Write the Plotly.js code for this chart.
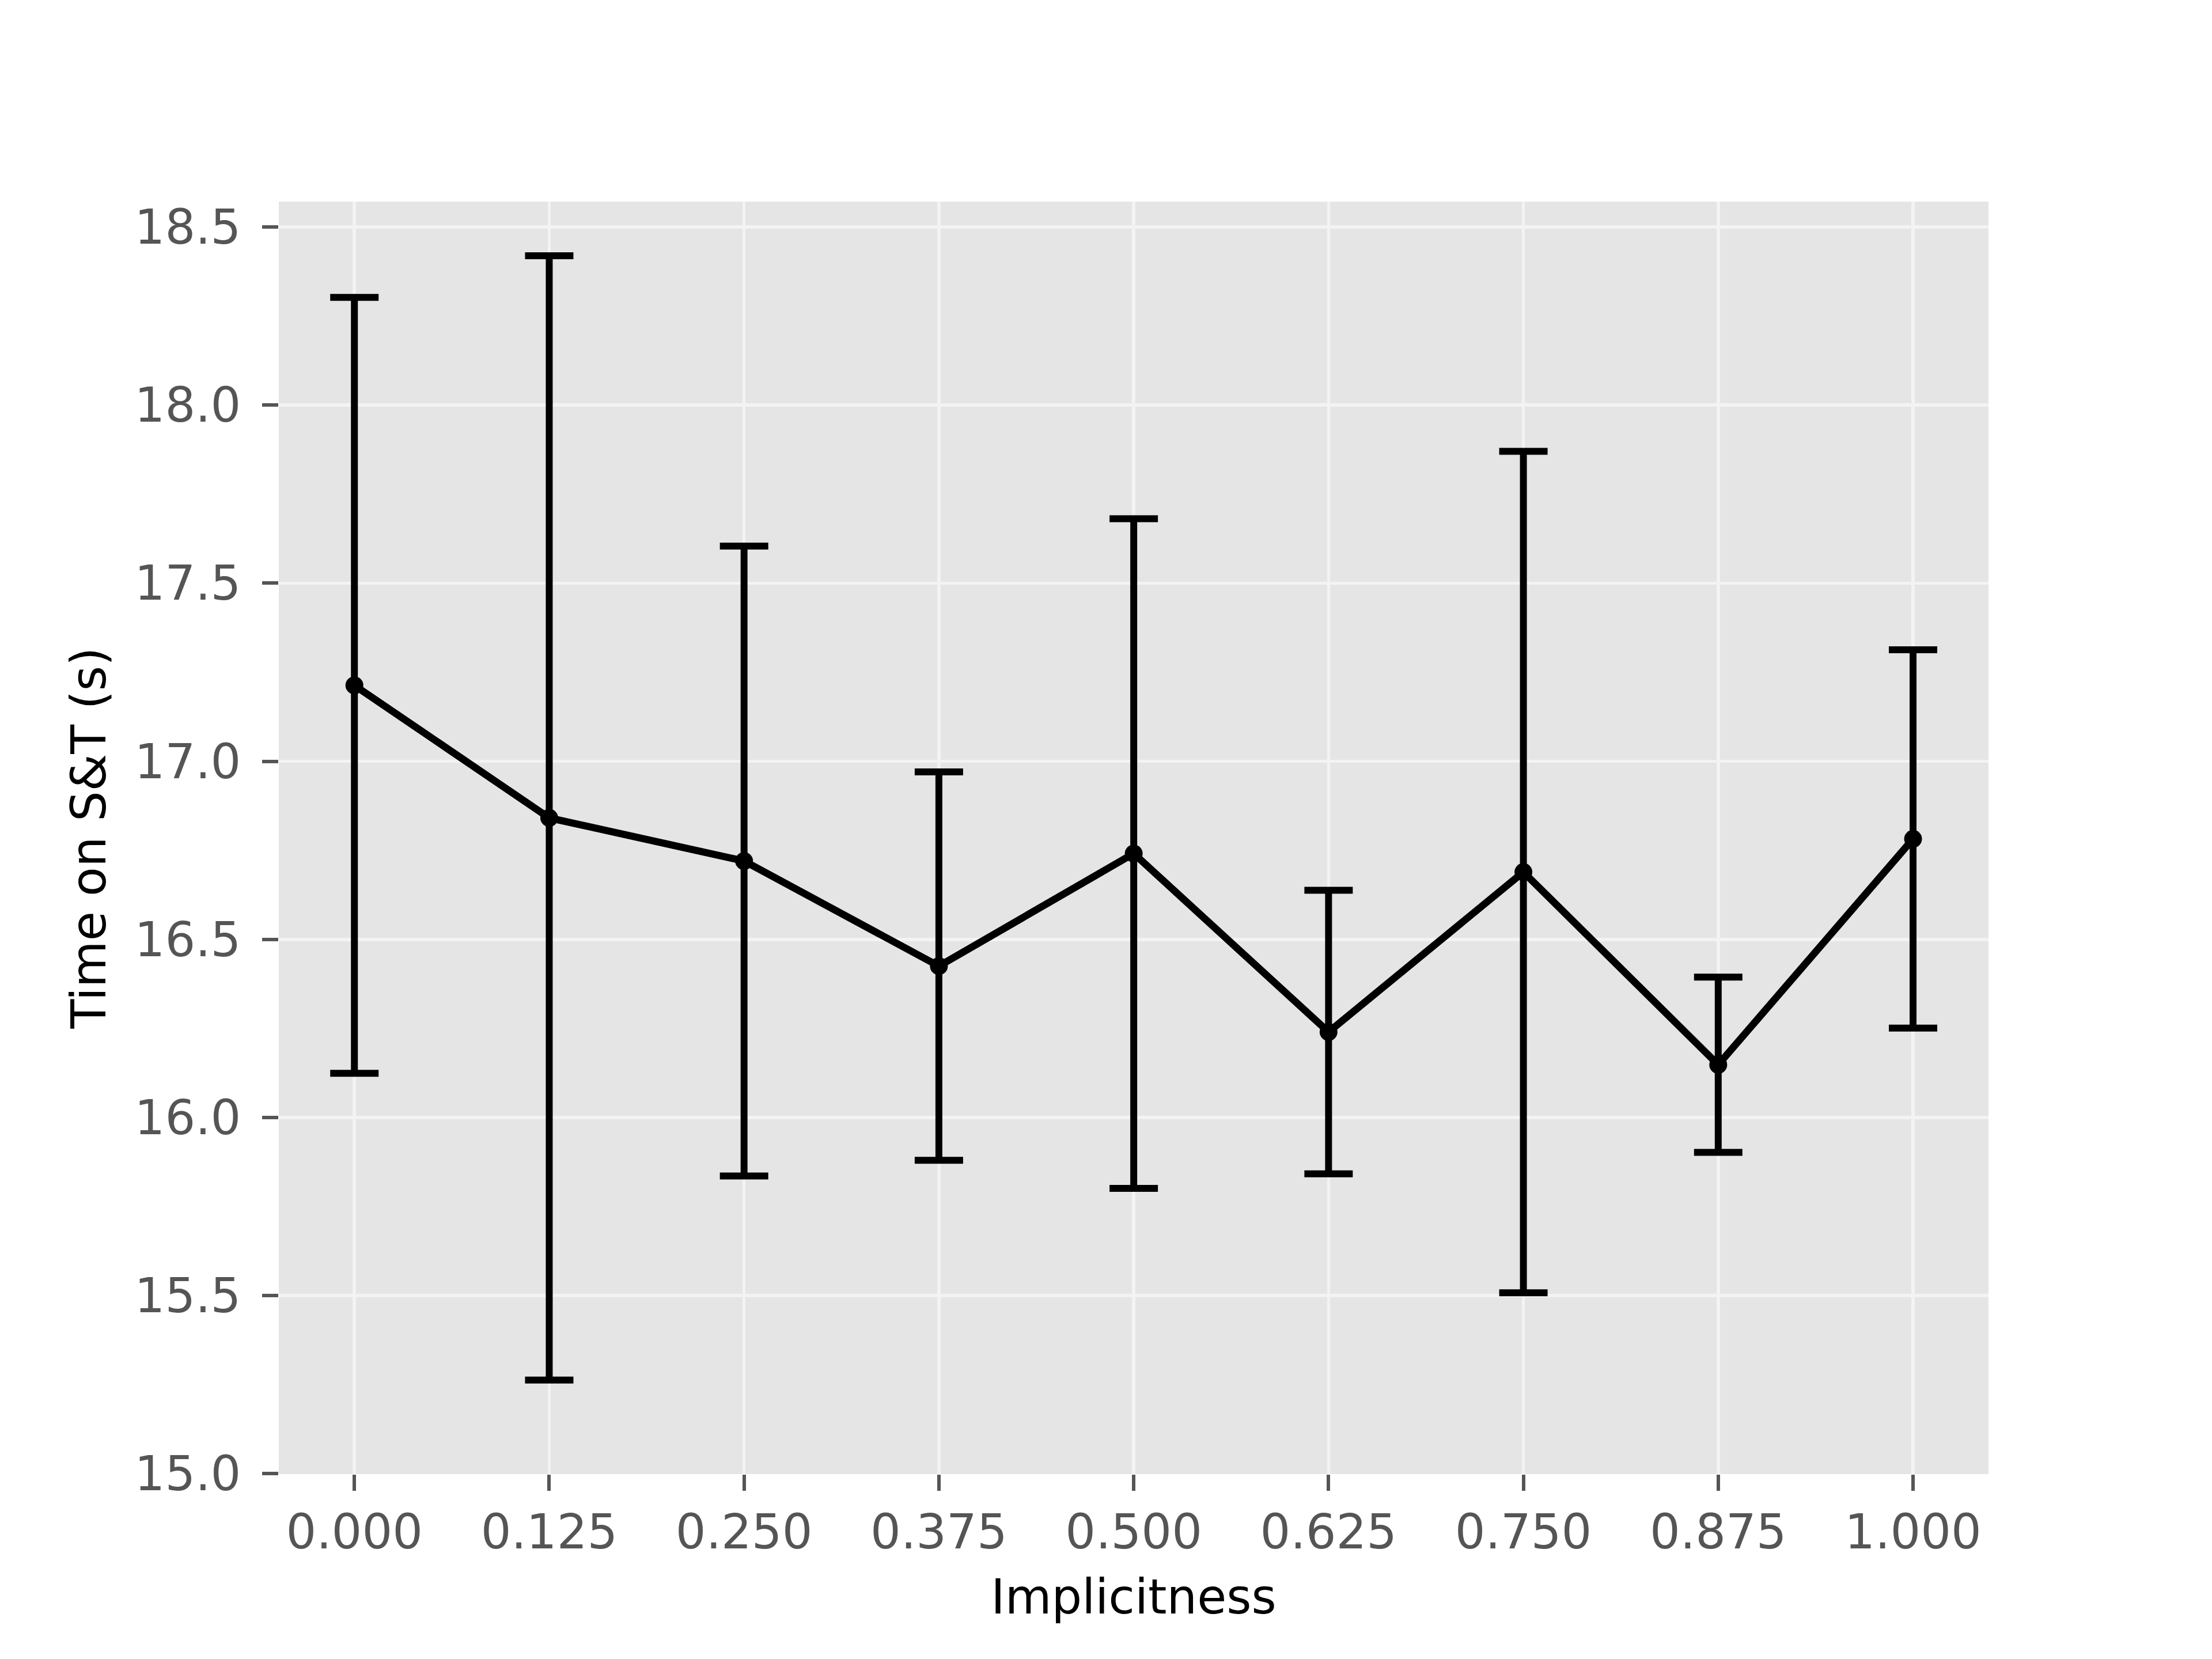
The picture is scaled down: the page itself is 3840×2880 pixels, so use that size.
<!DOCTYPE html>
<html>
<head>
<meta charset="utf-8">
<script src="https://cdn.plot.ly/plotly-3.0.1.min.js"></script>
<style>
  html, body { margin: 0; padding: 0; background: #ffffff; }
  #chart { width: 3840px; height: 2880px; }
</style>
</head>
<body>
<div id="chart"></div>
<script>
// Data
const implicitness = [0.0, 0.125, 0.25, 0.375, 0.5, 0.625, 0.75, 0.875, 1.0];
const meanTime = [17.213, 16.841, 16.720, 16.425, 16.741, 16.240, 16.689, 16.148, 16.782];
const errTime = [1.089, 1.578, 0.884, 0.545, 0.940, 0.398, 1.181, 0.246, 0.531];
const xTickLabels = ["0.000", "0.125", "0.250", "0.375", "0.500", "0.625", "0.750", "0.875", "1.000"];
const yTickValues = [15.0, 15.5, 16.0, 16.5, 17.0, 17.5, 18.0, 18.5];
const yTickLabels = ["15.0", "15.5", "16.0", "16.5", "17.0", "17.5", "18.0", "18.5"];

const FONT = "DejaVu Sans, Liberation Sans, sans-serif";

const trace = {
  type: "scatter",
  mode: "lines+markers",
  x: implicitness,
  y: meanTime,
  line: { color: "#000000", width: 12.5 },
  marker: { color: "#000000", size: 31 },
  error_y: {
    type: "data",
    array: errTime,
    symmetric: true,
    visible: true,
    color: "#000000",
    thickness: 12,
    width: 42
  },
  showlegend: false,
  hoverinfo: "skip"
};

const layout = {
  width: 3840,
  height: 2880,
  paper_bgcolor: "#ffffff",
  plot_bgcolor: "#E5E5E5",
  margin: { l: 484, r: 388, t: 350, b: 321, pad: 0 },
  font: { family: FONT, size: 83, color: "#555555" },
  showlegend: false,
  xaxis: {
    range: [-0.0485, 1.0484],
    tickmode: "array",
    tickvals: implicitness,
    ticktext: xTickLabels,
    ticks: "outside",
    ticklen: 28,
    tickwidth: 6,
    tickcolor: "#555555",
    tickfont: { family: FONT, size: 83, color: "#555555" },
    showgrid: true,
    gridcolor: "#F3F3F3",
    gridwidth: 5.5,
    zeroline: false,
    showline: false,
    automargin: false,
    title: { text: "Implicitness", font: { family: FONT, size: 83, color: "#000000" }, standoff: 36 }
  },
  yaxis: {
    range: [14.999, 18.571],
    tickmode: "array",
    tickvals: yTickValues,
    ticktext: yTickLabels,
    ticks: "outside",
    ticklen: 28,
    tickwidth: 6,
    tickcolor: "#555555",
    ticklabelstandoff: 20,
    tickfont: { family: FONT, size: 83, color: "#555555" },
    showgrid: true,
    gridcolor: "#F3F3F3",
    gridwidth: 5.5,
    zeroline: false,
    showline: false,
    automargin: false,
    title: { text: "Time on S&amp;T (s)", font: { family: FONT, size: 83, color: "#000000" }, standoff: 22 }
  }
};

Plotly.newPlot("chart", [trace], layout, { staticPlot: true, displayModeBar: false });
</script>
</body>
</html>
